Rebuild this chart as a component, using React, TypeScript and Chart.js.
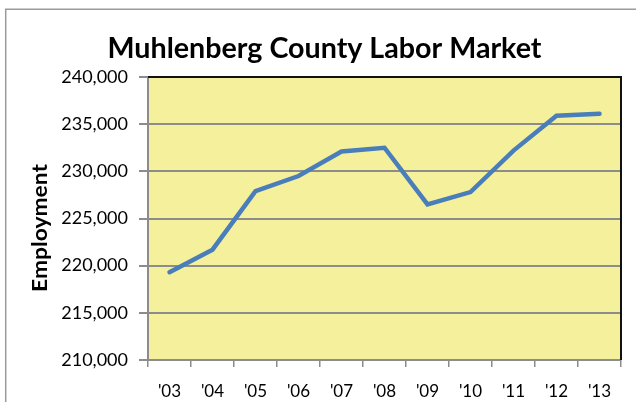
import React, { useEffect, useRef } from "react";
import { Chart, registerables } from "chart.js";

Chart.register(...registerables);

const categories = ["'03", "'04", "'05", "'06", "'07", "'08", "'09", "'10", "'11", "'12", "'13"];
const employment = [219300, 221700, 227900, 229500, 232100, 232500, 226500, 227800, 232200, 235900, 236100];
const yMin = 210000;
const yMax = 240000;
const yStep = 5000;
const titleText = "Muhlenberg County Labor Market";
const yTitleText = "Employment";

const FONT = "Lato, 'Open Sans', sans-serif";

const decorPlugin = {
  id: "decor",
  beforeDraw(chart: any) {
    const { ctx, chartArea } = chart;
    ctx.save();
    // outer frame
    ctx.strokeStyle = "#9a9a9a";
    ctx.lineWidth = 1.5;
    ctx.beginPath();
    ctx.moveTo(5.7, 420);
    ctx.lineTo(5.7, 9.2);
    ctx.lineTo(700, 9.2);
    ctx.stroke();
    // plot background
    ctx.fillStyle = "#F4F09C";
    ctx.fillRect(chartArea.left, chartArea.top, chartArea.right - chartArea.left, chartArea.bottom - chartArea.top);
    ctx.restore();
  },
  afterDraw(chart: any) {
    const { ctx, chartArea } = chart;
    ctx.save();
    // top and right plot borders
    ctx.strokeStyle = "#111111";
    ctx.lineWidth = 2;
    ctx.beginPath();
    ctx.moveTo(chartArea.left, chartArea.top);
    ctx.lineTo(chartArea.right, chartArea.top);
    ctx.lineTo(chartArea.right, chartArea.bottom);
    ctx.stroke();

    // title
    ctx.fillStyle = "#000000";
    ctx.font = "bold 29px " + FONT;
    ctx.textBaseline = "alphabetic";
    ctx.textAlign = "center";
    const tw = ctx.measureText(titleText).width;
    const sx = 434 / tw;
    ctx.save();
    ctx.translate(324.5, 57.7);
    ctx.scale(sx, 1);
    ctx.fillText(titleText, 0, 0);
    ctx.restore();

    // y-axis title
    ctx.font = "bold 21px " + FONT;
    const ew = ctx.measureText(yTitleText).width;
    const sy = 128 / ew;
    ctx.save();
    ctx.translate(47, 228);
    ctx.rotate(-Math.PI / 2);
    ctx.scale(sy, 1);
    ctx.fillText(yTitleText, 0, 0);
    ctx.restore();
    ctx.restore();
  },
};

export default function App() {
  const canvasRef = useRef<HTMLCanvasElement | null>(null);

  useEffect(() => {
    document.body.style.margin = "0";
    const canvas = canvasRef.current;
    if (!canvas) return;
    const chart = new Chart(canvas, {
      type: "line",
      data: {
        labels: categories,
        datasets: [
          {
            data: employment,
            borderColor: "#4A7EBB",
            borderWidth: 4.5,
            pointRadius: 0,
            tension: 0,
            borderCapStyle: "round",
            borderJoinStyle: "miter",
            fill: false,
          },
        ],
      },
      options: {
        animation: false,
        responsive: false,
        maintainAspectRatio: false,
        layout: { padding: { top: 77, right: 15, left: 0, bottom: 0 } },
        plugins: {
          legend: { display: false },
          title: { display: false },
          tooltip: { enabled: false },
        },
        scales: {
          x: {
            type: "category",
            offset: true,
            afterFit(scale: any) {
              scale.height = 42;
            },
            grid: {
              offset: true,
              drawOnChartArea: false,
              drawTicks: true,
              tickLength: 7,
              color: "#8c8c8c",
              lineWidth: 1.5,
            },
            border: { display: true, color: "#8c8c8c", width: 2 },
            ticks: {
              color: "#000000",
              font: { family: FONT, size: 17 },
              padding: 14,
              maxRotation: 0,
              autoSkip: false,
            },
          },
          y: {
            min: yMin,
            max: yMax,
            afterFit(scale: any) {
              scale.width = 148;
            },
            grid: {
              color: "#8c8c8c",
              lineWidth: 2,
              drawTicks: true,
              tickLength: 9,
            },
            border: { display: true, color: "#8c8c8c", width: 2 },
            ticks: {
              stepSize: yStep,
              color: "#000000",
              font: { family: FONT, size: 18 },
              padding: 11,
              callback: (v: any) => Number(v).toLocaleString("en-US"),
            },
          },
        },
      },
      plugins: [decorPlugin],
    });
    return () => chart.destroy();
  }, []);

  return (
    <div style={{ position: "fixed", left: 0, top: 0, width: 636, height: 402 }}>
      <canvas ref={canvasRef} width={636} height={402} style={{ width: 636, height: 402 }} />
    </div>
  );
}
